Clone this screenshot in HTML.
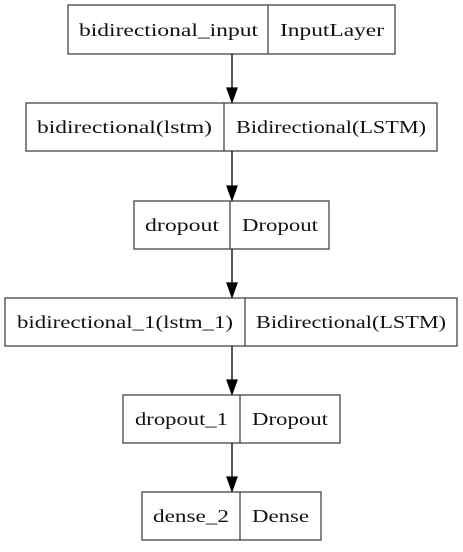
<!DOCTYPE html>
<html><head><style>html,body{margin:0;padding:0;background:#fff}</style></head><body>
<svg width="463" height="547" viewBox="0 0 463 547" xmlns="http://www.w3.org/2000/svg" font-family="Liberation Serif, serif" font-size="18" fill="#111">
<g stroke="#444" stroke-width="1.3" fill="none">
<rect x="68" y="5" width="327" height="49"/><line x1="268" y1="5" x2="268" y2="54"/>
<rect x="26" y="103" width="411" height="48"/><line x1="224" y1="103" x2="224" y2="151"/>
<rect x="134" y="201" width="195" height="48"/><line x1="230" y1="201" x2="230" y2="249"/>
<rect x="5" y="298" width="452" height="48"/><line x1="245" y1="298" x2="245" y2="346"/>
<rect x="123" y="395" width="217" height="48"/><line x1="240" y1="395" x2="240" y2="443"/>
<rect x="142" y="492" width="179" height="48"/><line x1="240" y1="492" x2="240" y2="540"/>
</g>
<g stroke="#000" stroke-width="1.3">
<line x1="232" y1="54" x2="232" y2="88"/><path d="M227,88 L237,88 L232,102 z" fill="#000"/>
<line x1="232" y1="151" x2="232" y2="186"/><path d="M227,186 L237,186 L232,200 z" fill="#000"/>
<line x1="232" y1="249" x2="232" y2="283"/><path d="M227,283 L237,283 L232,297 z" fill="#000"/>
<line x1="232" y1="346" x2="232" y2="380"/><path d="M227,380 L237,380 L232,394 z" fill="#000"/>
<line x1="232" y1="443" x2="232" y2="477"/><path d="M227,477 L237,477 L232,491 z" fill="#000"/>
</g>
<g>
<text x="79" y="36" textLength="179" lengthAdjust="spacingAndGlyphs">bidirectional_input</text>
<text x="280" y="36" textLength="104" lengthAdjust="spacingAndGlyphs">InputLayer</text>
<text x="37" y="133" textLength="175" lengthAdjust="spacingAndGlyphs">bidirectional(lstm)</text>
<text x="236" y="133" textLength="190" lengthAdjust="spacingAndGlyphs">Bidirectional(LSTM)</text>
<text x="145" y="231" textLength="74" lengthAdjust="spacingAndGlyphs">dropout</text>
<text x="242" y="231" textLength="76" lengthAdjust="spacingAndGlyphs">Dropout</text>
<text x="17" y="328" textLength="216" lengthAdjust="spacingAndGlyphs">bidirectional_1(lstm_1)</text>
<text x="256" y="328" textLength="190" lengthAdjust="spacingAndGlyphs">Bidirectional(LSTM)</text>
<text x="135" y="425" textLength="93" lengthAdjust="spacingAndGlyphs">dropout_1</text>
<text x="252" y="425" textLength="76" lengthAdjust="spacingAndGlyphs">Dropout</text>
<text x="153" y="522" textLength="76" lengthAdjust="spacingAndGlyphs">dense_2</text>
<text x="252" y="522" textLength="57" lengthAdjust="spacingAndGlyphs">Dense</text>
</g>
</svg>
</body></html>
